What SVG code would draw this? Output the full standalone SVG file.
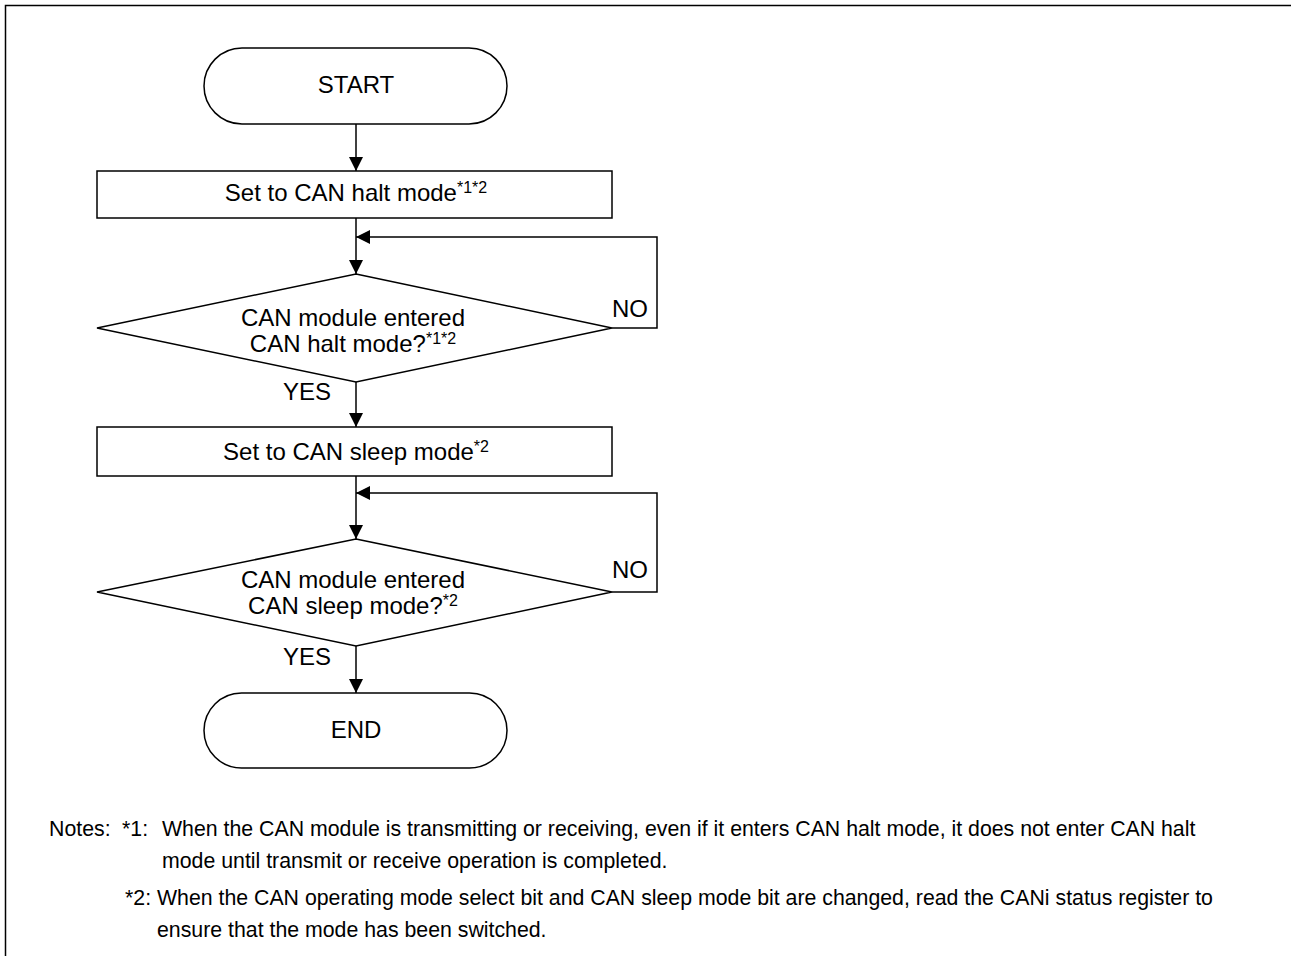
<svg xmlns="http://www.w3.org/2000/svg" width="1291" height="956" viewBox="0 0 1291 956">
<defs>
<marker id="arr" markerUnits="userSpaceOnUse" markerWidth="14" markerHeight="18" viewBox="0 0 14 18" refX="14" refY="7" orient="auto">
<path d="M0,0 L14,7 L0,14 Z" fill="#000"/>
</marker>
<style>
.s{fill:#fff;stroke:#000;stroke-width:1.5}
.c{fill:none;stroke:#000;stroke-width:1.5}
.t{font-family:"Liberation Sans",Arial,sans-serif;font-size:24px;fill:#000}
.m{text-anchor:middle}
.sup{font-size:16px}
.n{font-family:"Liberation Sans",Arial,sans-serif;font-size:21.3px;fill:#000}
</style>
</defs>
<rect width="1291" height="956" fill="#fff"/>
<path d="M5.5,960 V5.5 H1291" fill="none" stroke="#000" stroke-width="1.5"/>
<g id="connectors">
<line class="c" x1="356" y1="124" x2="356" y2="171" marker-end="url(#arr)"/>
<line class="c" x1="356" y1="218" x2="356" y2="274" marker-end="url(#arr)"/>
<polyline class="c" points="612,328 657,328 657,237 356,237" marker-end="url(#arr)"/>
<line class="c" x1="356" y1="382" x2="356" y2="427" marker-end="url(#arr)"/>
<line class="c" x1="356" y1="476" x2="356" y2="539" marker-end="url(#arr)"/>
<polyline class="c" points="612,592 657,592 657,493 356,493" marker-end="url(#arr)"/>
<line class="c" x1="356" y1="646" x2="356" y2="693" marker-end="url(#arr)"/>
<text class="t m" x="630" y="317">NO</text>
<text class="t m" x="307" y="400">YES</text>
<text class="t m" x="630" y="578">NO</text>
<text class="t m" x="307" y="665">YES</text>
</g>
<g id="start">
<rect class="s" x="204" y="48" width="303" height="76" rx="38"/>
<text class="t m" x="356" y="93">START</text>
</g>
<g id="halt">
<rect class="s" x="97" y="171" width="515" height="47"/>
<text class="t m" x="356" y="201">Set to CAN halt mode<tspan class="sup" dy="-8">*1*2</tspan></text>
</g>
<g id="check-halt">
<polygon class="s" points="356,274 612,328 356,382 97,328"/>
<text class="t m" x="353" y="326">CAN module entered</text>
<text class="t m" x="353" y="352">CAN halt mode?<tspan class="sup" dy="-8">*1*2</tspan></text>
</g>
<g id="sleep">
<rect class="s" x="97" y="427" width="515" height="49"/>
<text class="t m" x="356" y="460">Set to CAN sleep mode<tspan class="sup" dy="-8">*2</tspan></text>
</g>
<g id="check-sleep">
<polygon class="s" points="356,539 612,592 356,646 97,592"/>
<text class="t m" x="353" y="588">CAN module entered</text>
<text class="t m" x="353" y="614">CAN sleep mode?<tspan class="sup" dy="-8">*2</tspan></text>
</g>
<g id="end">
<rect class="s" x="204" y="693" width="303" height="75" rx="37.5"/>
<text class="t m" x="356" y="738">END</text>
</g>
<g id="notes">
<text class="n" x="49" y="836">Notes:</text>
<text class="n" x="122" y="836">*1:</text>
<text class="n" x="162" y="836">When the CAN module is transmitting or receiving, even if it enters CAN halt mode, it does not enter CAN halt</text>
<text class="n" x="162" y="868">mode until transmit or receive operation is completed.</text>
<text class="n" x="125" y="905">*2: When the CAN operating mode select bit and CAN sleep mode bit are changed, read the CANi status register to</text>
<text class="n" x="157" y="937">ensure that the mode has been switched.</text>
</g>
</svg>
